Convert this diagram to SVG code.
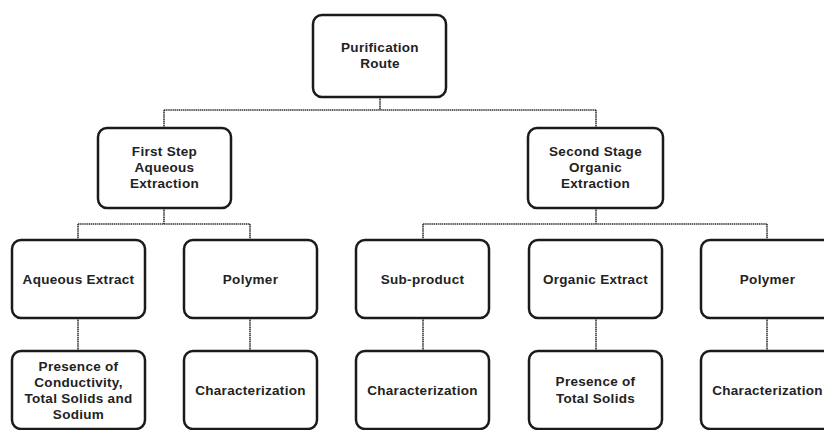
<svg xmlns="http://www.w3.org/2000/svg" width="824" height="430" viewBox="0 0 824 430">
<style>
.box{fill:#fff;stroke:#1a1a1a;stroke-width:2.5}
.t{font-family:"Liberation Sans",Arial,sans-serif;font-weight:bold;font-size:13.5px;letter-spacing:0.3px;fill:#222;text-anchor:middle}
.c{fill:none;stroke:#333;stroke-width:1.6;stroke-dasharray:1.5 0.6}
</style>
<rect width="824" height="430" fill="#fff"/>
<g id="connectors">
<path class="c" d="M380 97V110M164 110H596M164 110V128M596 110V128"/>
<path class="c" d="M164 208V224M78 224H250M78 224V240M250 224V240"/>
<path class="c" d="M596 208V224M423 224H767M423 224V240M767 224V240"/>
<path class="c" d="M78 318V351M250 318V351M423 318V351M596 318V351M767 318V351"/>
</g>
<g id="root"><rect class="box" x="313" y="15" width="133" height="82" rx="9"/><text class="t" x="380" y="52">Purification</text><text class="t" x="380" y="68">Route</text></g>
<g id="first"><rect class="box" x="98" y="128" width="133" height="80" rx="9"/><text class="t" x="164.5" y="156">First Step</text><text class="t" x="164.5" y="172">Aqueous</text><text class="t" x="164.5" y="188">Extraction</text></g>
<g id="second"><rect class="box" x="528" y="128" width="135" height="80" rx="9"/><text class="t" x="595.5" y="156">Second Stage</text><text class="t" x="595.5" y="172">Organic</text><text class="t" x="595.5" y="188">Extraction</text></g>
<g id="aqext"><rect class="box" x="12" y="240" width="133" height="78" rx="9"/><text class="t" x="78.5" y="284">Aqueous Extract</text></g>
<g id="poly1"><rect class="box" x="184" y="240" width="133" height="78" rx="9"/><text class="t" x="250.5" y="284">Polymer</text></g>
<g id="subprod"><rect class="box" x="356" y="240" width="133" height="78" rx="9"/><text class="t" x="422.5" y="284">Sub-product</text></g>
<g id="orgext"><rect class="box" x="529" y="240" width="133" height="78" rx="9"/><text class="t" x="595.5" y="284">Organic Extract</text></g>
<g id="poly2"><rect class="box" x="701" y="240" width="133" height="78" rx="9"/><text class="t" x="767.5" y="284">Polymer</text></g>
<g id="presence1"><rect class="box" x="12" y="351" width="133" height="78" rx="9"/><text class="t" x="78.5" y="371">Presence of</text><text class="t" x="78.5" y="387">Conductivity,</text><text class="t" x="78.5" y="403">Total Solids and</text><text class="t" x="78.5" y="419">Sodium</text></g>
<g id="char1"><rect class="box" x="184" y="351" width="133" height="78" rx="9"/><text class="t" x="250.5" y="395">Characterization</text></g>
<g id="char2"><rect class="box" x="356" y="351" width="133" height="78" rx="9"/><text class="t" x="422.5" y="395">Characterization</text></g>
<g id="presence2"><rect class="box" x="529" y="351" width="133" height="78" rx="9"/><text class="t" x="595.5" y="386">Presence of</text><text class="t" x="595.5" y="403">Total Solids</text></g>
<g id="char3"><rect class="box" x="701" y="351" width="133" height="78" rx="9"/><text class="t" x="767.5" y="395">Characterization</text></g>
</svg>
